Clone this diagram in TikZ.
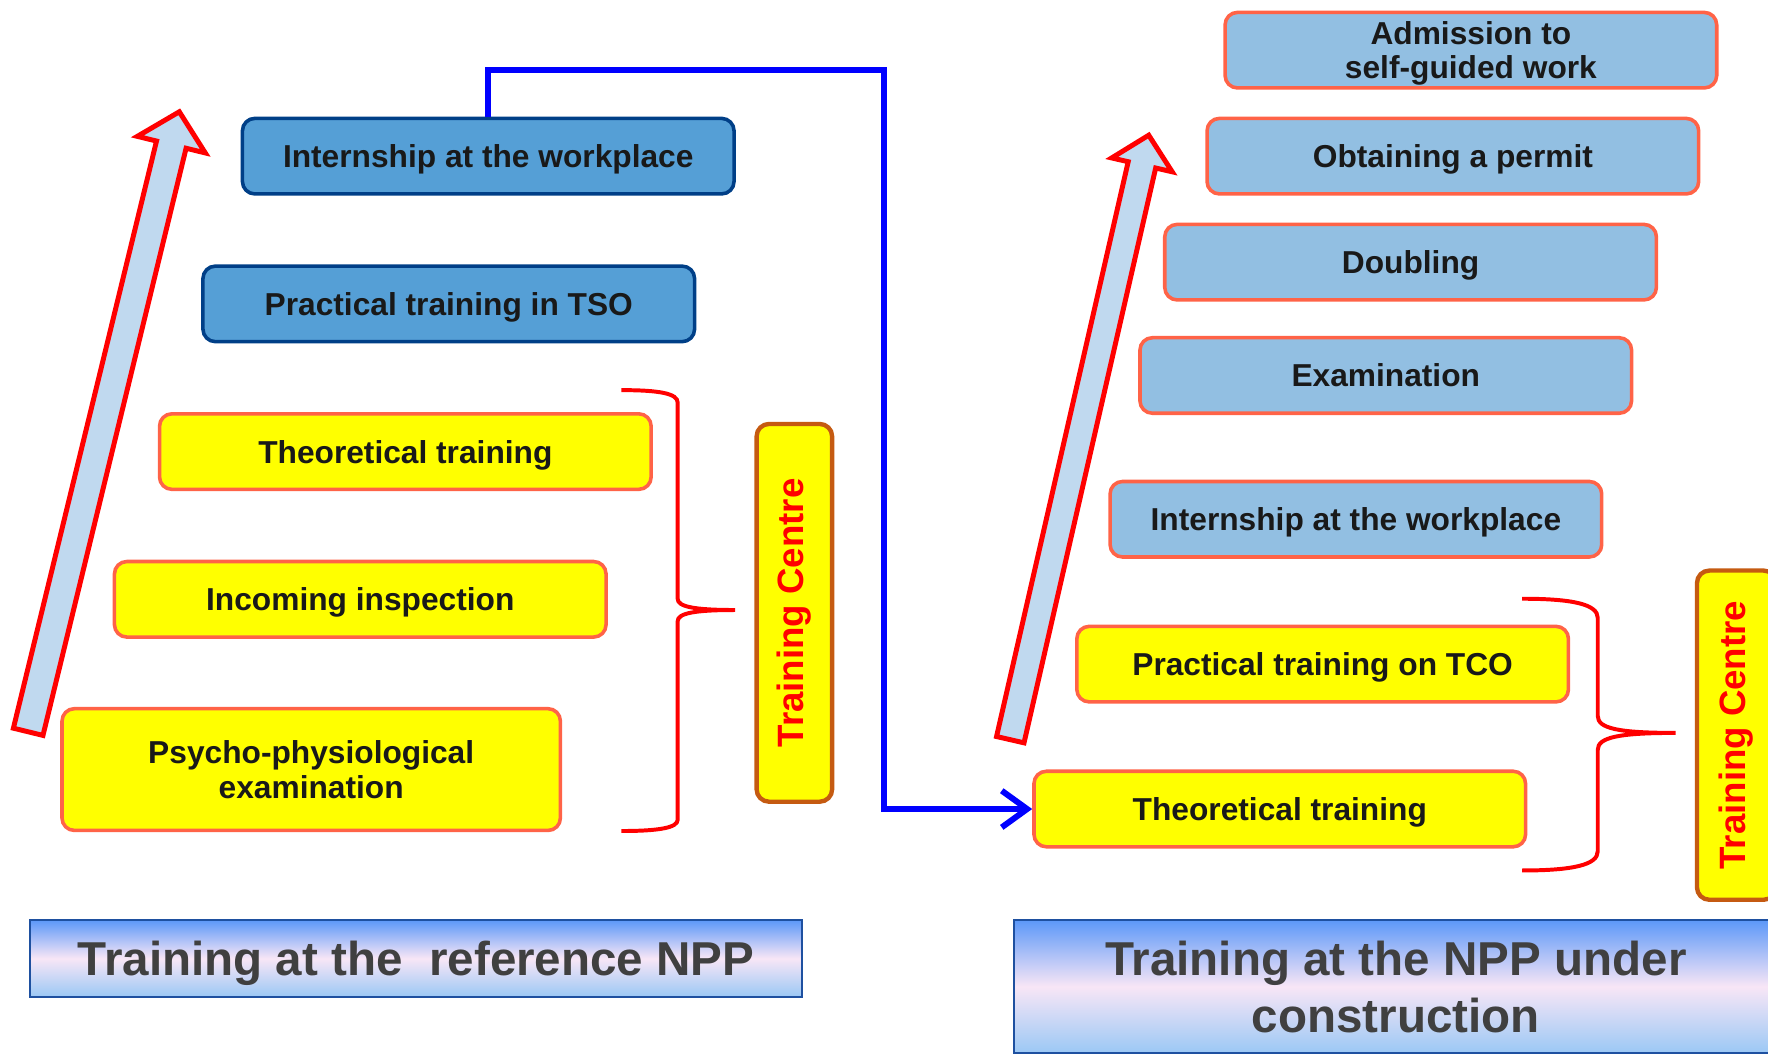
\documentclass[tikz,border=0pt]{standalone}
\usepackage{fontspec}
\setmainfont{Liberation Sans}
\usetikzlibrary{positioning, arrows.meta}

\definecolor{deepblue}{RGB}{85,159,214}
\definecolor{navyline}{RGB}{0,63,135}
\definecolor{paleblue}{RGB}{146,191,226}
\definecolor{tomatoline}{RGB}{255,99,71}
\definecolor{brownline}{RGB}{197,90,17}
\definecolor{brightyellow}{RGB}{255,255,0}
\definecolor{arrowfill}{RGB}{192,217,239}
\definecolor{bantop}{RGB}{92,152,248}
\definecolor{banmid}{RGB}{248,230,246}
\definecolor{banbot}{RGB}{155,200,245}
\definecolor{banline}{RGB}{30,80,160}
\definecolor{titlegray}{RGB}{64,64,64}

\tikzset{
  darkstep/.style={rectangle, rounded corners=0.22cm, line width=1.8pt,
    draw=navyline, fill=deepblue,
    minimum width=8.72cm, minimum height=1.34cm, text depth=0pt,
    font=\fontsize{16}{17.5}\selectfont\bfseries, text=black!90, align=center},
  lightstep/.style={darkstep, draw=tomatoline, fill=paleblue},
  yellowstep/.style={darkstep, draw=tomatoline, fill=brightyellow},
  centrebox/.style={rectangle, rounded corners=0.22cm, line width=2.2pt,
    draw=brownline, fill=brightyellow, rotate=90, text=red,
    font=\fontsize{18.5}{20}\selectfont\bfseries},
  banner/.style={rectangle, draw=banline, line width=1pt,
    top color=bantop, bottom color=banbot, middle color=banmid, text depth=0pt,
    text=titlegray, font=\fontsize{24}{28.5}\selectfont\bfseries, align=center},
  bracket/.style={red, line width=2pt},
  flow/.style={blue, line width=3pt, -{Straight Barb[length=4.5mm, width=6.5mm]}},
  bigarrow/.style={draw=red, line width=2.5pt, fill=arrowfill, miter limit=10}
}

\begin{document}
\begin{tikzpicture}[node distance=2.62cm]

    \useasboundingbox (0,0) rectangle (31.36,-18.68);
    \clip (0,0) rectangle (31.36,-18.68);

    % rising arrows
    \begin{scope}[shift={(0.50,-12.98)}, rotate=76.3]
      \draw[bigarrow] (0,-0.27) -- (10.72,-0.27) -- (10.72,-0.62) -- (11.32,0)
        -- (10.72,0.62) -- (10.72,0.27) -- (0,0.27) -- cycle;
    \end{scope}

    \begin{scope}[shift={(17.92,-13.12)}, rotate=77.1]
      \draw[bigarrow] (0,-0.25) -- (10.46,-0.25) -- (10.46,-0.55) -- (11.00,0)
        -- (10.46,0.55) -- (10.46,0.25) -- (0,0.25) -- cycle;
    \end{scope}

    % reference NPP
    \node[darkstep] (intL) at (8.66,-2.77) {Internship at the workplace};

    \node[darkstep,
    below of=intL, xshift=-0.70cm] (tsoL) {Practical training in TSO};

    \node[yellowstep,
    below of=tsoL, xshift=-0.77cm] (theoL) {Theoretical training};

    \node[yellowstep,
    below of=theoL, xshift=-0.80cm] (incL) {Incoming inspection};

    \node[yellowstep,
    minimum width=8.84cm,
    minimum height=2.16cm,
    below of=incL, xshift=-0.87cm, yshift=-0.40cm] (psyL) {Psycho-physiological\\examination};

    \draw[bracket] (11.02,-6.92) .. controls (11.70,-6.92) and (12.02,-6.98) .. (12.02,-7.14)
      -- (12.02,-10.62) .. controls (12.02,-10.76) and (12.30,-10.82) .. (13.04,-10.82)
      .. controls (12.30,-10.82) and (12.02,-10.88) .. (12.02,-11.02)
      -- (12.02,-14.54) .. controls (12.02,-14.68) and (11.70,-14.74) .. (11.02,-14.74);

    \node[centrebox,
    minimum width=6.70cm,
    minimum height=1.34cm] (tcL) at (14.09,-10.87) {Training Centre};

    \node[banner,
    minimum width=13.68cm,
    minimum height=1.36cm] (banL) at (7.38,-17.00) {Training at the~ reference NPP};

    % NPP under construction
    \node[lightstep] (admR) at (26.09,-0.89) {Admission to\\self-guided work};
    \node[lightstep] (permR) at (25.77,-2.77) {Obtaining a permit};
    \node[lightstep] (doubR) at (25.02,-4.65) {Doubling};
    \node[lightstep] (examR) at (24.58,-6.66) {Examination};
    \node[lightstep] (intR) at (24.05,-9.21) {Internship at the workplace};
    \node[yellowstep] (pracR) at (23.46,-11.78) {Practical training on TCO};
    \node[yellowstep] (theoR) at (22.70,-14.35) {Theoretical training};

    \draw[bracket] (27.00,-10.62) .. controls (27.90,-10.62) and (28.34,-10.72) .. (28.34,-10.96)
      -- (28.34,-12.70) .. controls (28.34,-12.92) and (28.70,-13.00) .. (29.72,-13.00)
      .. controls (28.70,-13.00) and (28.34,-13.08) .. (28.34,-13.30)
      -- (28.34,-15.10) .. controls (28.34,-15.34) and (27.90,-15.44) .. (27.00,-15.44);

    \node[centrebox,
    minimum width=5.84cm,
    minimum height=1.40cm] (tcR) at (30.80,-13.04) {Training Centre};

    \node[banner,
    minimum width=13.56cm,
    minimum height=2.36cm] (banR) at (24.76,-17.50) {Training at the NPP under\\construction};

    % from one plant to the other
    \coordinate (turn) at (15.68,-1.24);
    \draw[flow] (intL.north) |- (turn) |- (theoR.west);

\end{tikzpicture}
\end{document}
